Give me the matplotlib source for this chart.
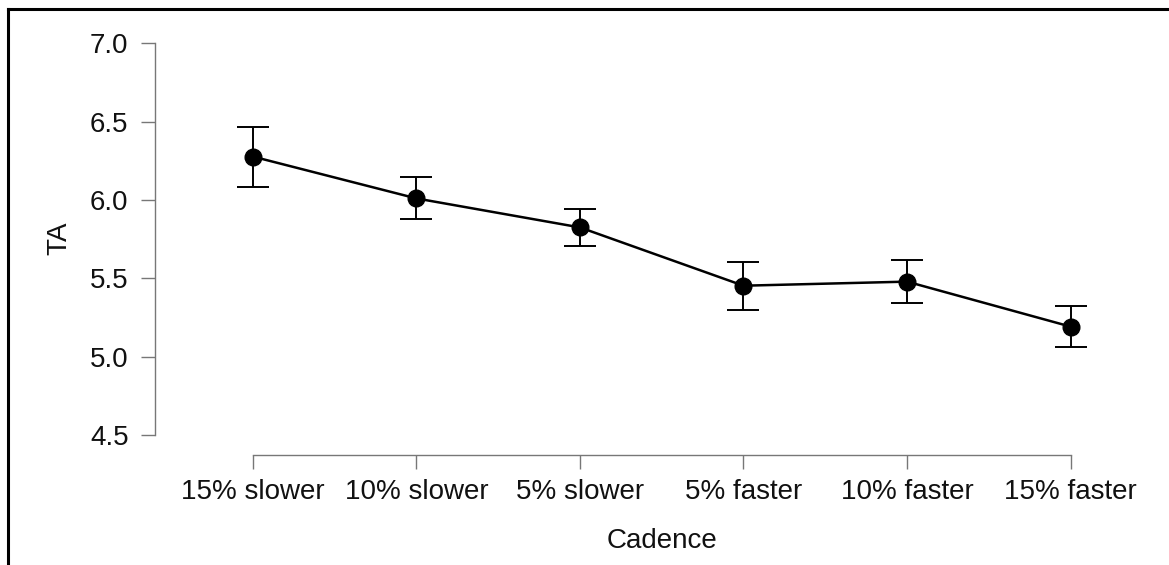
import matplotlib
matplotlib.use("Agg")
import matplotlib.pyplot as plt
from matplotlib.lines import Line2D
import numpy as np

categories = ["15% slower", "10% slower", "5% slower", "5% faster", "10% faster", "15% faster"]
means = [6.277, 6.010, 5.825, 5.453, 5.479, 5.192]
upper = [6.465, 6.146, 5.944, 5.606, 5.617, 5.321]
lower = [6.086, 5.878, 5.705, 5.298, 5.340, 5.060]
yticks = [4.5, 5.0, 5.5, 6.0, 6.5, 7.0]

plt.rcParams['font.family'] = ['Liberation Sans', 'DejaVu Sans']

W, H = 1169, 565
fig = plt.figure(figsize=(W / 100, H / 100), dpi=100)
fig.patch.set_facecolor('white')

left_px, right_px, top_px, bottom_px = 155, 1150, 30, 455
ax = fig.add_axes([left_px / W, 1 - bottom_px / H,
                   (right_px - left_px) / W, (bottom_px - top_px) / H])

x = np.arange(len(categories))
m = np.array(means)
err = np.vstack([m - np.array(lower), np.array(upper) - m])

ax.errorbar(x, m, yerr=err, fmt='none', ecolor='black', elinewidth=1.4,
            capsize=11.5, capthick=1.4, zorder=2)
ax.plot(x, m, color='black', linewidth=1.8, zorder=3)
ax.plot(x, m, 'o', color='black', markersize=12, zorder=4)

ax.set_xlim(-0.599, 5.486)
ax.set_ylim(4.3725, 7.085)

ax.set_xticks(x)
ax.set_xticklabels(categories)
ax.set_yticks(yticks)
ax.set_yticklabels([f"{v:.1f}" for v in yticks])

for s in ['top', 'right']:
    ax.spines[s].set_visible(False)
ax.spines['left'].set_bounds(4.5, 7.0)
ax.spines['bottom'].set_bounds(0, 5)
for s in ['left', 'bottom']:
    ax.spines[s].set_color('#777777')
    ax.spines[s].set_linewidth(1.0)

ax.tick_params(axis='both', which='major', length=10, width=1.0, color='#777777',
               labelsize=20, labelcolor='#111111')
ax.tick_params(axis='y', pad=9)
ax.tick_params(axis='x', pad=7)

ax.set_xlabel("Cadence", fontsize=20, color='#111111', va='center')
ax.set_ylabel("TA", fontsize=20, color='#111111', va='center')
ax.xaxis.set_label_coords(0.5095, -0.202)
ax.yaxis.set_label_coords(-0.0965, 0.511)

# border lines (top and left) of the framed image
fig.add_artist(Line2D([8 / W, 1.0], [1 - 9 / H, 1 - 9 / H], color='black', linewidth=2.2,
                      transform=fig.transFigure))
fig.add_artist(Line2D([8 / W, 8 / W], [0.0, 1 - 9 / H], color='black', linewidth=2.2,
                      transform=fig.transFigure))

fig.savefig("out.png", dpi=100, facecolor='white')
